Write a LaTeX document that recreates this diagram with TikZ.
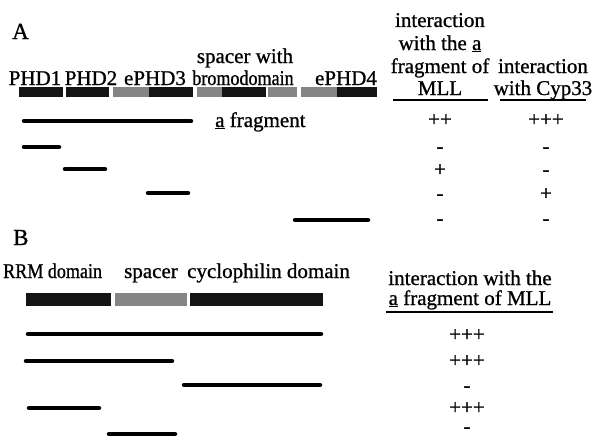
\documentclass[tikz,border=0pt]{standalone}
\usepackage{graphicx}
\usepackage{fontspec}
\setmainfont[FakeBold=0.9]{Liberation Serif}
\usetikzlibrary{positioning}
\definecolor{domdark}{gray}{0.08}
\definecolor{domgray}{gray}{0.52}
\newcommand{\narrowtext}[1]{\scalebox{0.86}[1]{#1}}
\tikzset{
  lbl/.style={inner sep=0pt, anchor=base, font=\fontsize{21}{24}\selectfont},
  panel/.style={inner sep=0pt, anchor=base west, font=\fontsize{23}{27}\selectfont},
  frag/.style={line width=4.5pt, line cap=round},
  rulebar/.style={line width=1.2pt},
}
\begin{document}
\begin{tikzpicture}[x=1pt,y=-1pt]
  \useasboundingbox[fill=white] (0,0) rectangle (600,439);

  % panel A: domains of MLL
  \node[panel] (panelA) at (12,39) {A};
  \node[lbl] (spacerwith) at (245,63) {spacer with};
  \node[lbl] (phdone) at (35,85) {PHD1};
  \node[lbl] (phdtwo) at (91,85) {PHD2};
  \node[lbl] (ephdthree) at (155,85) {ePHD3};
  \node[lbl] (bromo) at (243,85) {\narrowtext{bromodomain}};
  \node[lbl] (ephdfour) at (346,85) {ePHD4};
  \foreach \xa/\xb/\c in {19/63/domdark, 66/109/domdark, 113/149/domgray,
      149/193/domdark, 197/222/domgray, 222/266/domdark, 268/297/domgray,
      301/337/domgray, 337/377/domdark}
    \fill[\c] (\xa,87) rectangle (\xb,97);

  % fragments of MLL
  \foreach \yy/\xa/\xb in {121/24/191, 147/24/59, 169/65/105, 193/148/188, 220/295/368}
    \draw[frag] (\xa,\yy) -- (\xb,\yy);
  \node[lbl, anchor=base west] (afrag) at (215,127) {\underline{a} fragment};

  % interaction columns
  \node[lbl] (hdaone) at (440,27) {interaction};
  \node[lbl] (hdatwo) at (440,50) {with the \underline{a}};
  \node[lbl] (hdathree) at (440,73) {fragment of};
  \node[lbl] (hdafour) at (440,95) {MLL};
  \node[lbl] (hdbone) at (543,73) {interaction};
  \node[lbl] (hdbtwo) at (543,95) {with Cyp33};
  \draw[rulebar] (393,100) -- (488,100);
  \draw[rulebar] (500,100) -- (586,100);
  \foreach \yy/\va/\vb [count=\i] in {126/++/+++, 153/-/-, 176/+/-, 200/-/+, 225/-/-} {
    \node[lbl] (vala\i) at (440,\yy) {\va};
    \node[lbl] (valb\i) at (546,\yy) {\vb};
  }

  % panel B: domains of Cyp33
  \node[panel] (panelB) at (13,245) {B};
  \node[lbl, anchor=base west] (rrm) at (3,278) {\narrowtext{RRM domain}};
  \node[lbl, anchor=base west] (spacer) at (124,278) {spacer};
  \node[lbl, anchor=base west] (cyclo) at (187,278) {cyclophilin domain};
  \fill[domdark] (26,293) rectangle (111,306);
  \fill[domgray] (115,293) rectangle (187,306);
  \fill[domdark] (190,293) rectangle (323,306);

  % fragments of Cyp33
  \foreach \yy/\xa/\xb in {334/28/321, 361/26/172, 385/184/320, 408/29/99, 434/109/175}
    \draw[frag] (\xa,\yy) -- (\xb,\yy);

  \node[lbl] (hdcone) at (470,285) {interaction with the};
  \node[lbl] (hdctwo) at (470,305) {\underline{a} fragment of MLL};
  \draw[rulebar] (386,312) -- (553,312);
  \foreach \yy/\vc [count=\i] in {341/+++, 367/+++, 392/-, 414/+++, 433/-}
    \node[lbl] (valc\i) at (467,\yy) {\vc};
\end{tikzpicture}
\end{document}
